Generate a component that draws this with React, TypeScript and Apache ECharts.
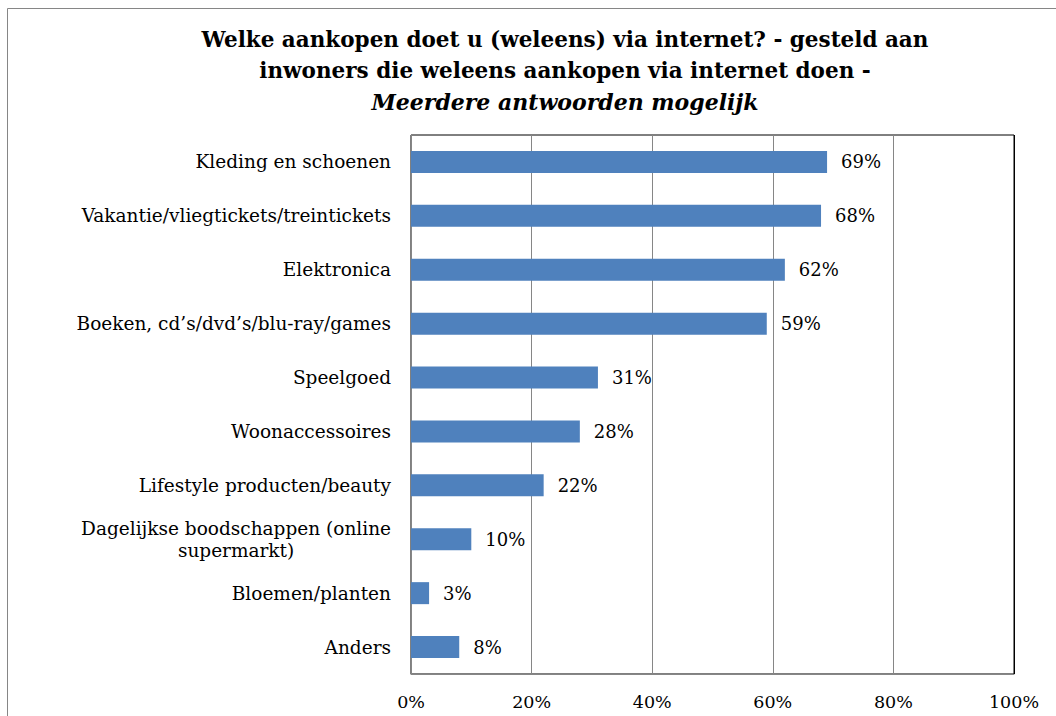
import React, { useEffect, useRef } from "react";
import * as echarts from "echarts";

const categories = [
  "Kleding en schoenen",
  "Vakantie/vliegtickets/treintickets",
  "Elektronica",
  "Boeken, cd’s/dvd’s/blu-ray/games",
  "Speelgoed",
  "Woonaccessoires",
  "Lifestyle producten/beauty",
  "Dagelijkse boodschappen (online\nsupermarkt)",
  "Bloemen/planten",
  "Anders",
];
const values = [69, 68, 62, 59, 31, 28, 22, 10, 3, 8];
const xTicks = [0, 20, 40, 60, 80, 100];
const titleLines = [
  "Welke aankopen doet u (weleens) via internet? - gesteld aan",
  "inwoners die weleens aankopen via internet doen -",
];
const subtitle = "Meerdere antwoorden mogelijk";

const FONT = "'DejaVu Serif', serif";

export default function App() {
  const ref = useRef<HTMLDivElement>(null);
  useEffect(() => {
    if (!ref.current) return;
    const chart = echarts.init(ref.current, undefined, { renderer: "svg" });
    chart.setOption({
      animation: false,
      backgroundColor: "#ffffff",
      graphic: [
        {
          type: "rect",
          shape: { x: 7.5, y: 8.5, width: 1200, height: 900 },
          style: { fill: "none", stroke: "#868686", lineWidth: 1 },
          silent: true,
          z: -10,
        },
      ],
      title: {
        left: 560,
        top: 19,
        textAlign: "center",
        text:
          titleLines.map((l) => `{b|${l}}`).join("\n") + `\n{i|${subtitle}}`,
        textStyle: {
          rich: {
            b: {
              fontFamily: FONT,
              fontWeight: "bold",
              fontSize: 21.5,
              color: "#000",
              lineHeight: 31,
            },
            i: {
              fontFamily: FONT,
              fontStyle: "italic",
              fontSize: 22,
              color: "#000",
              lineHeight: 31,
            },
          },
        },
      },
      grid: {
        left: 411,
        top: 135,
        width: 603,
        height: 539,
        show: true,
        borderColor: "#000",
        borderWidth: 1,
        backgroundColor: "transparent",
      },
      xAxis: {
        type: "value",
        min: xTicks[0],
        max: xTicks[xTicks.length - 1],
        interval: xTicks[1] - xTicks[0],
        axisLine: { show: true, lineStyle: { color: "#868686", width: 1 } },
        axisTick: { show: false },
        splitLine: {
          show: true,
          lineStyle: {
            color: ["rgba(0,0,0,0)", "#868686", "#868686", "#868686", "#868686", "#000"],
            width: 1,
          },
        },
        axisLabel: {
          formatter: "{value}%",
          fontFamily: FONT,
          fontSize: 17.5,
          color: "#000",
          margin: 19,
        },
      },
      yAxis: {
        type: "category",
        inverse: true,
        data: categories,
        axisLine: { show: true, lineStyle: { color: "#868686", width: 1 } },
        axisTick: { show: false },
        axisLabel: {
          fontFamily: FONT,
          fontSize: 18.5,
          color: "#000",
          margin: 20,
          formatter: (v: string) =>
            v.indexOf("\n") >= 0
              ? v
                  .split("\n")
                  .map((s) => `{c|${s}}`)
                  .join("\n")
              : v,
          rich: {
            c: {
              align: "center",
              fontFamily: FONT,
              fontSize: 18.5,
              color: "#000",
              lineHeight: 22,
            },
          },
        },
      },
      series: [
        {
          type: "bar",
          data: values,
          barWidth: 22,
          itemStyle: { color: "#4F81BD" },
          label: {
            show: true,
            position: "right",
            distance: 14,
            formatter: "{c}%",
            fontFamily: FONT,
            fontSize: 18,
            color: "#000",
          },
        },
      ],
    });
    return () => chart.dispose();
  }, []);
  return (
    <div
      style={{
        position: "fixed",
        left: 0,
        top: 0,
        width: 1056,
        height: 716,
        overflow: "hidden",
        background: "#fff",
      }}
    >
      <div
        ref={ref}
        style={{ position: "absolute", left: 0, top: 0, width: 1056, height: 716 }}
      />
    </div>
  );
}
